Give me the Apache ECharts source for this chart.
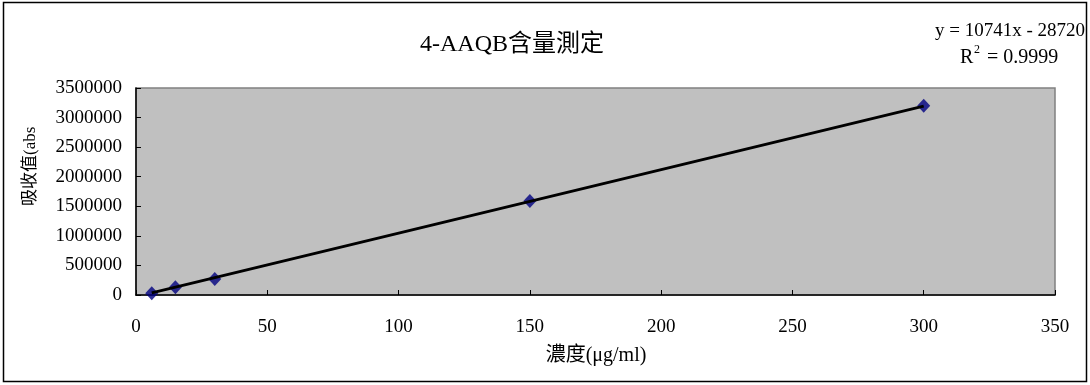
<!DOCTYPE html>
<html><head><meta charset="utf-8">
<script src="https://cdn.jsdelivr.net/npm/echarts@6/dist/echarts.min.js"></script>
<style>html,body{margin:0;padding:0;background:#fff}#c{width:1090px;height:385px}</style>
</head><body><div id="c"></div>
<script>
const concentrations = [6, 15, 30, 150, 300];
const absorbance = [30000, 130000, 270000, 1590000, 3200000];
const slope = 10741;
const intercept = -28720;
const xTicks = [0, 50, 100, 150, 200, 250, 300, 350];
const yTicks = [0, 500000, 1000000, 1500000, 2000000, 2500000, 3000000, 3500000];
const titleText = '4-AAQB含量測定';
const eqLine1 = 'y = 10741x - 28720';
const eqLine2 = '= 0.9999';
const xName = '濃度(μg/ml)';
const yName = '吸收值(abs';

const points = concentrations.map((x, i) => [x, absorbance[i]]);
const xMinD = Math.min(...concentrations), xMaxD = Math.max(...concentrations);
const trend = [[xMinD, slope * xMinD + intercept], [xMaxD, slope * xMaxD + intercept]];

const serif = '"Liberation Serif","Noto Sans CJK TC",serif';
const chart = echarts.init(document.getElementById('c'));
chart.setOption({
  animation: false,
  backgroundColor: '#fff',
  graphic: [
    { type: 'rect', shape: { x: 3.5, y: 2.5, width: 1083, height: 379 }, style: { fill: 'none', stroke: '#000', lineWidth: 1.5 }, z: 100 },
    { type: 'text', x: 512, y: 45, style: { text: titleText, font: '24px ' + serif, fill: '#000', textAlign: 'center', textVerticalAlign: 'middle' }, z: 100 },
    { type: 'text', x: 1085, y: 31, style: { text: eqLine1, font: '19px ' + serif, fill: '#000', textAlign: 'right', textVerticalAlign: 'middle' }, z: 100 },
    { type: 'text', x: 960, y: 58, style: { text: 'R', font: '20px ' + serif, fill: '#000', textAlign: 'left', textVerticalAlign: 'middle' }, z: 100 },
    { type: 'text', x: 974, y: 50, style: { text: '2', font: '12px ' + serif, fill: '#000', textAlign: 'left', textVerticalAlign: 'middle' }, z: 100 },
    { type: 'text', x: 987, y: 58, style: { text: eqLine2, font: '20px ' + serif, fill: '#000', textAlign: 'left', textVerticalAlign: 'middle' }, z: 100 },
    { type: 'text', x: 596, y: 356, style: { text: xName, font: '20px ' + serif, fill: '#000', textAlign: 'center', textVerticalAlign: 'middle' }, z: 100 },
    { type: 'text', x: 31, y: 206, rotation: Math.PI / 2, style: { text: yName, font: '17px ' + serif, fill: '#000', textAlign: 'left', textVerticalAlign: 'middle' }, z: 100 }
  ],
  grid: { left: 136, right: 35, top: 88, bottom: 90, show: true, backgroundColor: '#C0C0C0', borderColor: '#808080', borderWidth: 1.5 },
  xAxis: {
    type: 'value', min: xTicks[0], max: xTicks[xTicks.length - 1], interval: xTicks[1] - xTicks[0],
    axisLine: { show: true, onZero: false, lineStyle: { color: '#000', width: 1.5 } },
    axisTick: { show: true, inside: true, length: 5, lineStyle: { color: '#000' } },
    splitLine: { show: false },
    axisLabel: { margin: 23, color: '#000', fontFamily: serif, fontSize: 19 }
  },
  yAxis: {
    type: 'value', min: yTicks[0], max: yTicks[yTicks.length - 1], interval: yTicks[1] - yTicks[0],
    axisLine: { show: true, lineStyle: { color: '#000', width: 1.5 } },
    axisTick: { show: true, inside: true, length: 5, lineStyle: { color: '#000' } },
    splitLine: { show: false },
    axisLabel: { margin: 14, color: '#000', fontFamily: serif, fontSize: 19, formatter: v => String(v) }
  },
  series: [
    { type: 'line', data: trend, symbol: 'none', lineStyle: { color: '#000', width: 3 }, z: 3, silent: true },
    { type: 'scatter', data: points, symbol: 'diamond', symbolSize: [13, 14], itemStyle: { color: '#000080' }, z: 2 }
  ]
});
</script></body></html>
